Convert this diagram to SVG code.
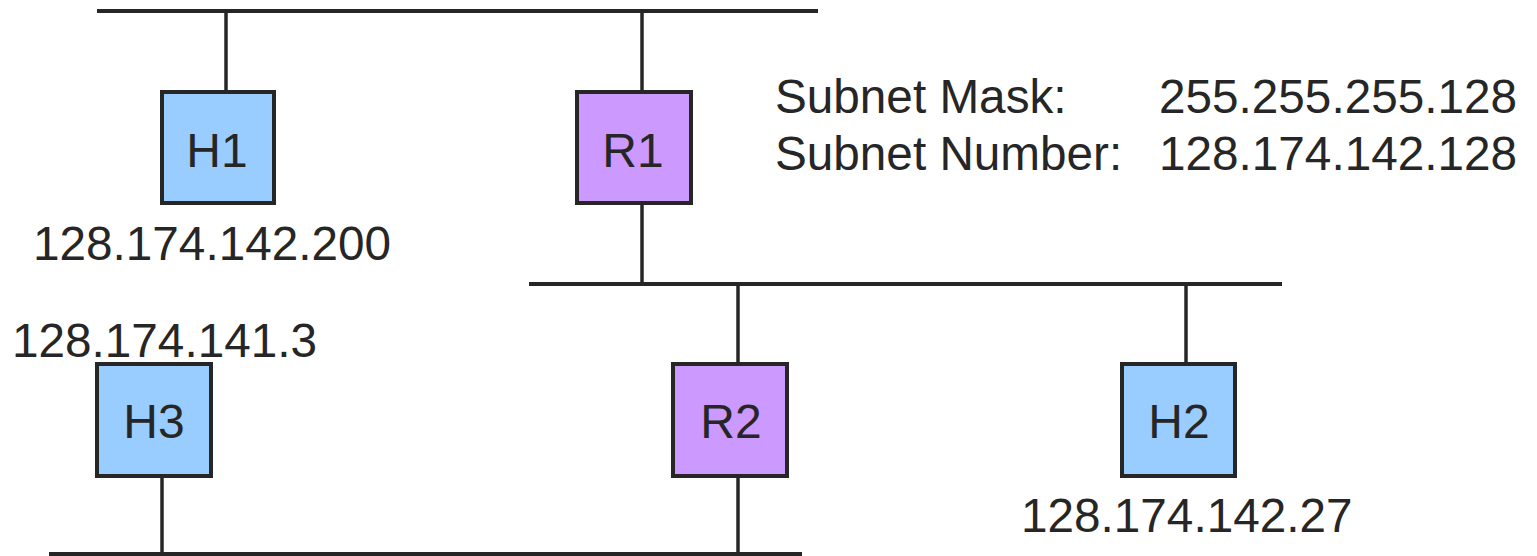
<svg xmlns="http://www.w3.org/2000/svg" width="1537" height="556" viewBox="0 0 1537 556">
<style>
.t{font-family:"Liberation Sans",Arial,sans-serif;font-size:47.7px;fill:#262626}
.c{text-anchor:middle;font-size:48px}
.host{fill:#99ccff;stroke:#262626;stroke-width:4}
.router{fill:#cc99ff;stroke:#262626;stroke-width:4}
.bus{stroke:#262626;stroke-width:4;fill:none}
.drop{stroke:#262626;stroke-width:3.5;fill:none}
</style>
<rect width="1537" height="556" fill="#ffffff"/>
<g id="connectors">
<line class="bus" x1="97" y1="11" x2="818" y2="11"/>
<line class="bus" x1="529" y1="284" x2="1282" y2="284"/>
<line class="bus" x1="49" y1="554" x2="802" y2="554"/>
<line class="drop" x1="226" y1="11" x2="226" y2="92"/>
<line class="drop" x1="642" y1="11" x2="642" y2="92"/>
<line class="drop" x1="642" y1="203" x2="642" y2="284"/>
<line class="drop" x1="738" y1="284" x2="738" y2="364"/>
<line class="drop" x1="738" y1="476" x2="738" y2="554"/>
<line class="drop" x1="1186" y1="284" x2="1186" y2="364"/>
<line class="drop" x1="162" y1="476" x2="162" y2="554"/>
</g>
<g id="H1">
<rect class="host" x="162" y="92" width="112" height="111"/>
<text class="t c" x="217" y="167">H1</text>
<text class="t" x="33" y="260">128.174.142.200</text>
</g>
<g id="R1">
<rect class="router" x="577" y="92" width="114" height="111"/>
<text class="t c" x="633" y="167">R1</text>
</g>
<g id="H3">
<rect class="host" x="97" y="364" width="114" height="112"/>
<text class="t c" x="154" y="438">H3</text>
<text class="t" x="12" y="357">128.174.141.3</text>
</g>
<g id="R2">
<rect class="router" x="673" y="364" width="114" height="112"/>
<text class="t c" x="731" y="438">R2</text>
</g>
<g id="H2">
<rect class="host" x="1122" y="364" width="113" height="112"/>
<text class="t c" x="1179" y="438">H2</text>
<text class="t" x="1021" y="532">128.174.142.27</text>
</g>
<g id="subnet-info">
<text class="t" x="775" y="113">Subnet Mask:</text>
<text class="t" x="1159" y="113">255.255.255.128</text>
<text class="t" x="775" y="170">Subnet Number:</text>
<text class="t" x="1159" y="170">128.174.142.128</text>
</g>
</svg>
